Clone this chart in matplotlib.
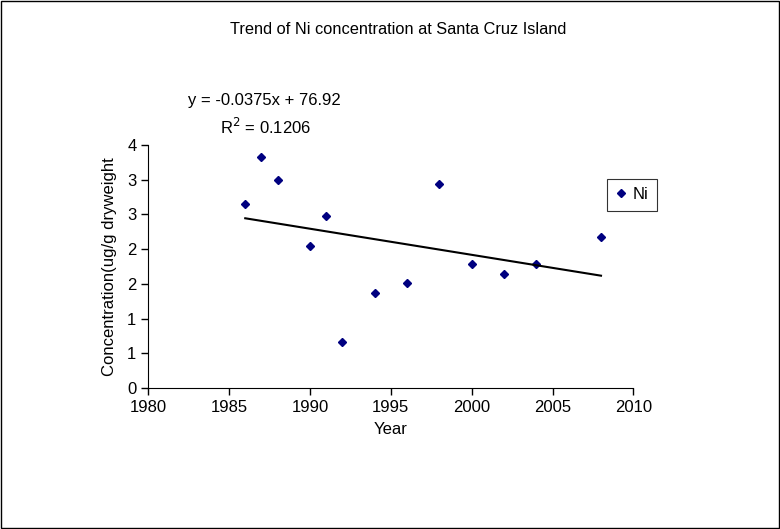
import numpy as np
import matplotlib
matplotlib.use("Agg")
import matplotlib.pyplot as plt
from matplotlib.ticker import FuncFormatter

plt.rcParams.update({
    'font.family': ['Liberation Sans', 'DejaVu Sans'],
    'font.size': 12,
})

# Data
years = [1986, 1987, 1988, 1990, 1991, 1992, 1994, 1996, 1998, 2000, 2002, 2004, 2008]
ni_conc = [2.65, 3.32, 2.99, 2.04, 2.47, 0.66, 1.37, 1.51, 2.94, 1.79, 1.64, 1.78, 2.18]

title = "Trend of Ni concentration at Santa Cruz Island"
eq_text = "y = -0.0375x + 76.92"
r2_text = "R$^2$ = 0.1206"

fig = plt.figure(figsize=(7.8, 5.29), dpi=100)
ax = fig.add_axes([0.190, 0.2665, 0.622, 0.4595])

x = np.array(years, dtype=float)
y = np.array(ni_conc)
ax.plot(x, y, linestyle='none', marker='D', markersize=4.5,
        color='#000080', label='Ni')

# linear trendline between first and last year
slope, intercept = np.polyfit(x, y, 1)
xl = np.array([x.min(), x.max()])
ax.plot(xl, slope * xl + intercept, color='black', linewidth=1.5)

ax.set_xlim(1980, 2010)
ax.set_ylim(0, 3.5)
ax.set_xticks(np.arange(1980, 2011, 5))
ax.set_yticks(np.arange(0, 3.51, 0.5))
# Excel "0" number format: halves round away from zero
ax.yaxis.set_major_formatter(FuncFormatter(lambda v, p: f"{int(np.floor(v + 0.5))}"))
ax.tick_params(direction='out', length=5, width=1, colors='black', labelsize=12)

ax.spines['top'].set_visible(False)
ax.spines['right'].set_visible(False)

ax.set_xlabel("Year", fontsize=12, labelpad=5)
ax.set_ylabel("Concentration(ug/g dryweight", fontsize=12, labelpad=7)

fig.text(0.510, 0.945, title, ha='center', va='center', fontsize=11.8)
fig.text(0.241, 0.810, eq_text, ha='left', va='center', fontsize=12)
fig.text(0.282, 0.760, r2_text, ha='left', va='center', fontsize=12)

leg = ax.legend(loc='upper left', bbox_to_anchor=(0.946, 0.86), frameon=True,
                fancybox=False, handlelength=0.7, handletextpad=0.35,
                borderpad=0.5, borderaxespad=0, fontsize=12, markerscale=0.9)
leg.get_frame().set_edgecolor('black')
leg.get_frame().set_linewidth(0.8)

# chart area border
fig.patches.append(plt.Rectangle((0.001, 0.001), 0.998, 0.998, transform=fig.transFigure,
                                 fill=False, edgecolor='black', linewidth=1))

fig.savefig("out.png", dpi=100, facecolor='white')
